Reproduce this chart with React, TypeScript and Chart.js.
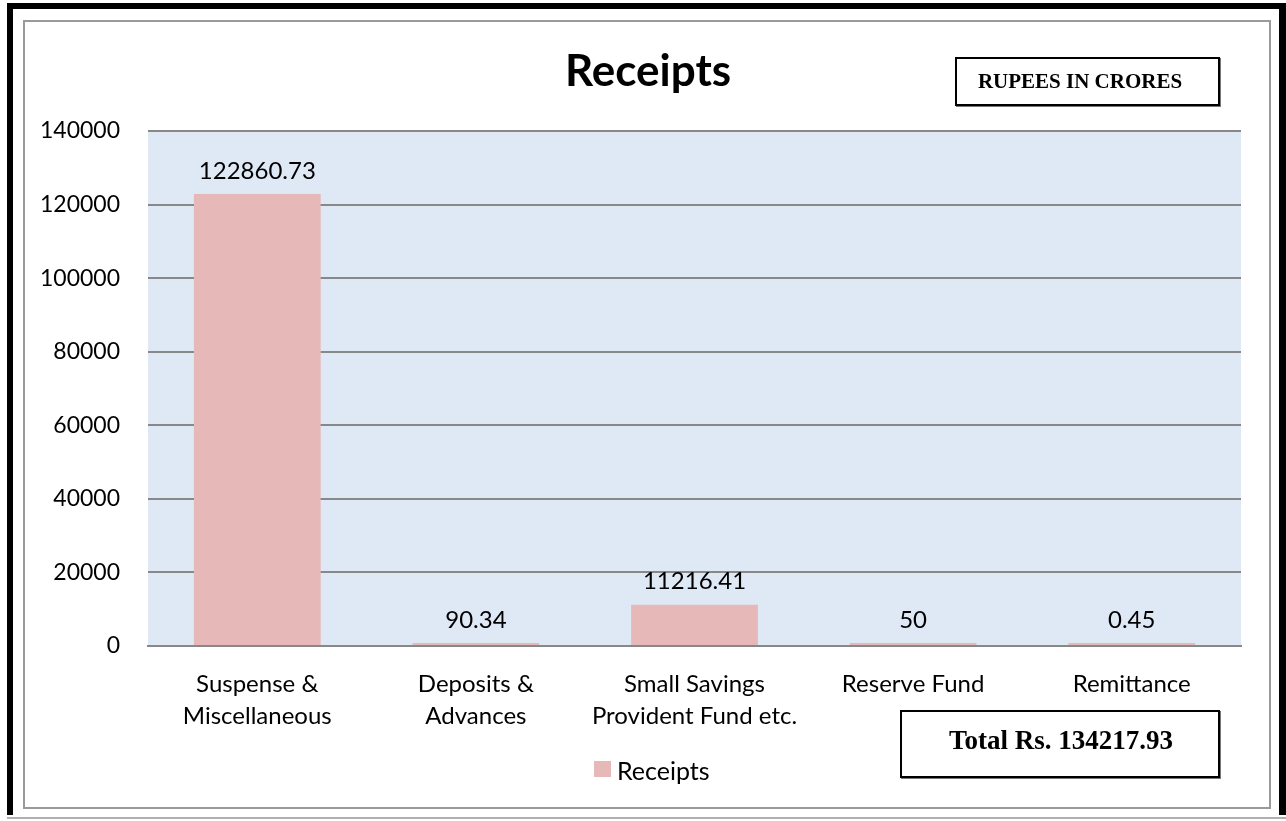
import React, { useEffect, useRef } from "react";
import { Chart, registerables } from "chart.js";

Chart.register(...registerables);

const categories: string[][] = [
  ["Suspense &", "Miscellaneous"],
  ["Deposits &", "Advances"],
  ["Small Savings", "Provident Fund etc."],
  ["Reserve Fund"],
  ["Remittance"],
];
const receipts: number[] = [122860.73, 90.34, 11216.41, 50, 0.45];
const valueLabels: string[] = ["122860.73", "90.34", "11216.41", "50", "0.45"];
const seriesName = "Receipts";
const titleText = "Receipts";
const unitText = "RUPEES IN CRORES";
const totalText = "Total Rs. 134217.93";
const yMax = 140000;
const yStep = 20000;

const FONT = "Lato, 'Open Sans', sans-serif";
const SERIF = "'Liberation Serif', 'DejaVu Serif', serif";

const decorPlugin = {
  id: "decor",
  beforeDraw(chart: any) {
    const { ctx, chartArea } = chart;
    ctx.save();
    ctx.fillStyle = "#ffffff";
    ctx.fillRect(0, 0, chart.width, chart.height);
    // plot background
    ctx.fillStyle = "#DFE8F5";
    ctx.fillRect(chartArea.left, chartArea.top, chartArea.right - chartArea.left, chartArea.bottom - chartArea.top);
    // outer frame
    ctx.fillStyle = "#000000";
    ctx.fillRect(7, 3, 6, 812);
    ctx.fillRect(7, 3, 1279, 6);
    ctx.fillRect(1279, 3, 7, 812);
    ctx.fillStyle = "#b0b0b0";
    ctx.fillRect(7, 817, 1279, 2);
    // inner frame
    ctx.strokeStyle = "#9a9a9a";
    ctx.lineWidth = 2;
    ctx.strokeRect(24, 21, 1246, 787);
    ctx.restore();
  },
  afterDraw(chart: any) {
    const { ctx } = chart;
    ctx.save();
    // title
    ctx.fillStyle = "#000";
    ctx.font = `bold 44px ${FONT}`;
    ctx.textAlign = "center";
    ctx.textBaseline = "middle";
    ctx.fillText(titleText, 648, 72);
    // unit box
    ctx.fillStyle = "#777";
    ctx.fillRect(956, 58, 265, 49);
    ctx.fillStyle = "#fff";
    ctx.fillRect(955, 57, 265, 49);
    ctx.strokeStyle = "#000";
    ctx.lineWidth = 2;
    ctx.strokeRect(956, 58, 263, 47);
    ctx.fillStyle = "#000";
    ctx.font = `bold 21px ${SERIF}`;
    ctx.fillText(unitText, 1080, 83);
    // total box
    ctx.fillStyle = "#777";
    ctx.fillRect(901, 711, 320, 68);
    ctx.fillStyle = "#fff";
    ctx.fillRect(900, 710, 320, 68);
    ctx.strokeStyle = "#000";
    ctx.strokeRect(901, 711, 318, 66);
    ctx.fillStyle = "#000";
    ctx.font = `bold 27px ${SERIF}`;
    ctx.fillText(totalText, 1061, 742);
    // legend
    const ds = chart.data.datasets[0];
    ctx.fillStyle = ds.backgroundColor;
    ctx.fillRect(594, 761, 17, 16);
    ctx.fillStyle = "#000";
    ctx.font = `25px ${FONT}`;
    ctx.textAlign = "left";
    ctx.fillText(ds.label, 617, 772);
    // value labels
    const meta = chart.getDatasetMeta(0);
    ctx.textAlign = "center";
    ctx.font = `24px ${FONT}`;
    meta.data.forEach((bar: any, i: number) => {
      ctx.fillText(valueLabels[i], bar.x, bar.y - 23);
    });
    ctx.restore();
  },
};

export default function App() {
  const ref = useRef<HTMLCanvasElement>(null);
  useEffect(() => {
    if (!ref.current) return;
    const chart = new Chart(ref.current, {
      type: "bar",
      data: {
        labels: categories,
        datasets: [
          {
            label: seriesName,
            data: receipts,
            backgroundColor: "#E6B8B7",
            borderWidth: 0,
            categoryPercentage: 1,
            barPercentage: 0.58,
            minBarLength: 3,
          },
        ],
      },
      options: {
        animation: false,
        responsive: false,
        layout: { padding: { left: 0, right: 45, top: 131, bottom: 0 } },
        plugins: {
          legend: { display: false },
          title: { display: false },
          tooltip: { enabled: false },
        },
        scales: {
          x: {
            grid: { display: false, drawTicks: false },
            border: { display: true, color: "#888", width: 2 },
            ticks: {
              color: "#000",
              font: { family: FONT, size: 24, lineHeight: 1.3 },
              padding: 23,
              maxRotation: 0,
            },
            afterFit(scale: any) {
              scale.height = 175;
            },
          },
          y: {
            min: 0,
            max: yMax,
            ticks: {
              stepSize: yStep,
              color: "#000",
              font: { family: FONT, size: 23 },
              padding: 28,
              callback: (v: any) => String(v),
            },
            grid: { color: "#888", lineWidth: 2, drawTicks: false },
            border: { display: false },
            afterFit(scale: any) {
              scale.width = 148;
            },
          },
        },
      },
      plugins: [decorPlugin],
    });
    return () => chart.destroy();
  }, []);
  return (
    <div style={{ position: "absolute", left: 0, top: 0, width: 1286, height: 821 }}>
      <canvas ref={ref} width={1286} height={821} style={{ display: "block" }} />
    </div>
  );
}
